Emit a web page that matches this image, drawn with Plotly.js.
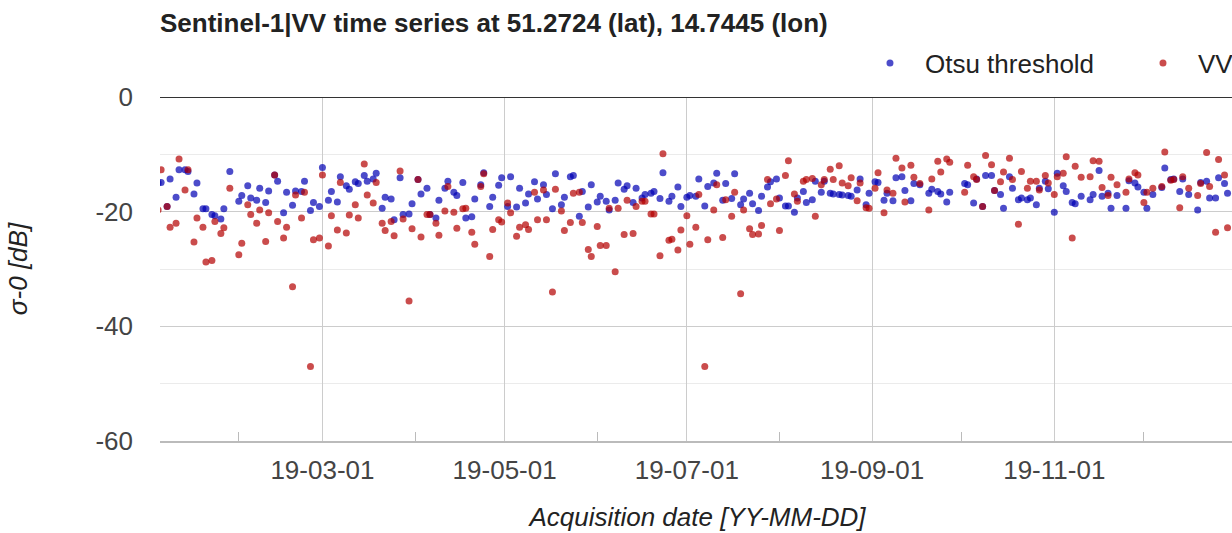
<!DOCTYPE html>
<html>
<head>
<meta charset="utf-8">
<script src="https://cdn.plot.ly/plotly-3.0.1.min.js"></script>
<style>
  html, body { margin: 0; padding: 0; background: #fff; overflow: hidden; }
  #chart { width: 1500px; height: 533px; }
</style>
</head>
<body>
<div id="chart"></div>
<script>
// Acquisition dates (2019)
const dates = [
  "2019-01-05","2019-01-06","2019-01-08","2019-01-09","2019-01-11","2019-01-12","2019-01-14","2019-01-15","2019-01-17","2019-01-18","2019-01-20","2019-01-21","2019-01-23","2019-01-24","2019-01-26","2019-01-27","2019-01-29",
  "2019-02-01","2019-02-02","2019-02-04","2019-02-05","2019-02-07","2019-02-08","2019-02-10","2019-02-11","2019-02-13","2019-02-14","2019-02-16","2019-02-17","2019-02-19","2019-02-20","2019-02-22","2019-02-23","2019-02-25","2019-02-26","2019-02-28",
  "2019-03-01","2019-03-03","2019-03-04","2019-03-06","2019-03-07","2019-03-09","2019-03-10","2019-03-12","2019-03-13","2019-03-15","2019-03-16","2019-03-18","2019-03-19","2019-03-21","2019-03-22","2019-03-24","2019-03-25","2019-03-27","2019-03-28","2019-03-30","2019-03-31",
  "2019-04-02","2019-04-03","2019-04-05","2019-04-06","2019-04-08","2019-04-09","2019-04-11","2019-04-12","2019-04-14","2019-04-15","2019-04-17","2019-04-18","2019-04-20","2019-04-21","2019-04-23","2019-04-24","2019-04-26","2019-04-27","2019-04-29","2019-04-30",
  "2019-05-02","2019-05-03","2019-05-05","2019-05-06","2019-05-08","2019-05-09","2019-05-11","2019-05-12","2019-05-14","2019-05-15","2019-05-17","2019-05-18","2019-05-20","2019-05-21","2019-05-23","2019-05-24","2019-05-26","2019-05-27","2019-05-29","2019-05-30",
  "2019-06-01","2019-06-02","2019-06-04","2019-06-05","2019-06-07","2019-06-08","2019-06-10","2019-06-11","2019-06-13","2019-06-14","2019-06-16","2019-06-17","2019-06-19","2019-06-20","2019-06-22","2019-06-23","2019-06-25","2019-06-26","2019-06-28","2019-06-29",
  "2019-07-01","2019-07-02","2019-07-04","2019-07-05","2019-07-07","2019-07-08","2019-07-10","2019-07-11","2019-07-13","2019-07-14","2019-07-16","2019-07-17","2019-07-19","2019-07-20","2019-07-22","2019-07-23","2019-07-25","2019-07-26","2019-07-28","2019-07-29","2019-07-31",
  "2019-08-01","2019-08-03","2019-08-04","2019-08-06","2019-08-07","2019-08-09","2019-08-10","2019-08-12","2019-08-13","2019-08-15","2019-08-16","2019-08-18","2019-08-19","2019-08-21","2019-08-22","2019-08-24","2019-08-25","2019-08-27","2019-08-28","2019-08-30","2019-08-31",
  "2019-09-02","2019-09-03","2019-09-05","2019-09-06","2019-09-08","2019-09-09","2019-09-11","2019-09-12","2019-09-14","2019-09-15","2019-09-17","2019-09-20","2019-09-21","2019-09-23","2019-09-24","2019-09-26","2019-09-27",
  "2019-10-02","2019-10-03","2019-10-05","2019-10-06","2019-10-08","2019-10-09","2019-10-11","2019-10-12","2019-10-14","2019-10-15","2019-10-17","2019-10-18","2019-10-20","2019-10-21","2019-10-23","2019-10-24","2019-10-26","2019-10-27","2019-10-29","2019-10-30",
  "2019-11-01","2019-11-02","2019-11-04","2019-11-05","2019-11-07","2019-11-08","2019-11-10","2019-11-13","2019-11-14","2019-11-16","2019-11-17","2019-11-19","2019-11-20","2019-11-22","2019-11-25","2019-11-26","2019-11-28","2019-11-29",
  "2019-12-01","2019-12-02","2019-12-04","2019-12-07","2019-12-08","2019-12-10","2019-12-11","2019-12-13","2019-12-14","2019-12-16","2019-12-19","2019-12-20","2019-12-22","2019-12-23","2019-12-25","2019-12-26","2019-12-28","2019-12-29"
];

// Otsu threshold [dB]
const otsuThreshold = [
  -15.0,-14.9,-19.1,-14.3,-17.5,-12.7,-12.7,-13.0,-16.9,-15.0,-19.5,-19.5,-20.5,-20.7,-21.3,-19.5,-13.0,
  -18.2,-17.2,-15.5,-17.6,-18.0,-15.9,-18.4,-16.4,-13.6,-14.7,-20.2,-16.6,-18.9,-16.4,-16.5,-14.7,-19.8,-18.4,-19.1,
  -12.3,-18.0,-16.5,-18.3,-13.9,-15.5,-16.1,-14.8,-15.1,-13.7,-14.7,-14.3,-13.3,-19.4,-17.5,-17.8,-21.4,-14.1,-20.5,-20.4,-18.6,
  -14.4,-16.9,-15.9,-20.5,-21.1,-18.0,-15.9,-14.7,-16.6,-17.2,-14.9,-21.1,-20.9,-17.8,-15.3,-13.2,-19.1,-17.5,-15.4,-14.1,
  -19.1,-13.9,-19.2,-15.9,-18.5,-16.9,-14.8,-17.8,-15.3,-17.0,-19.5,-13.4,-18.8,-17.5,-13.9,-13.7,-20.8,-16.5,-19.2,-15.3,
  -18.3,-17.3,-18.2,-19.7,-18.0,-15.0,-16.1,-15.5,-18.4,-15.9,-17.6,-17.0,-16.8,-16.5,-17.7,-13.2,-18.2,-17.3,-15.7,-19.1,
  -17.5,-17.2,-17.3,-14.3,-19.0,-15.6,-15.0,-13.3,-18.0,-15.1,-17.7,-13.4,-18.8,-17.8,-16.8,-18.6,-19.8,-17.3,-15.7,-14.8,-14.3,
  -17.6,-19.0,-19.0,-20.1,-17.6,-16.5,-18.4,-17.9,-14.7,-16.6,-14.7,-16.8,-16.9,-17.0,-17.1,-17.2,-17.3,-16.2,-14.3,-18.8,-16.8,
  -14.8,-14.9,-18.0,-16.8,-18.1,-14.1,-13.9,-16.3,-18.1,-15.1,-15.3,-16.8,-16.1,-16.5,-16.9,-18.3,-16.6,
  -15.1,-15.3,-18.5,-14.3,-19.1,-13.7,-13.7,-16.3,-17.0,-19.4,-13.9,-15.9,-17.9,-17.6,-17.9,-17.6,-18.8,-15.9,-14.7,-16.0,
  -20.1,-13.3,-15.5,-16.5,-18.4,-18.6,-17.3,-17.9,-17.0,-12.8,-17.3,-16.8,-19.4,-17.2,-19.4,-14.6,-15.0,-15.7,
  -16.6,-19.4,-17.0,-15.8,-12.4,-14.4,-14.3,-16.5,-14.3,-17.0,-19.7,-14.9,-14.7,-17.6,-17.6,-14.1,-15.1,-16.8
];

// VV backscatter sigma-0 [dB]
const vvBackscatter = [
  -19.7,-12.7,-19.1,-22.7,-22.0,-10.8,-16.2,-12.7,-25.3,-21.1,-22.7,-28.8,-28.5,-21.7,-23.8,-22.8,-15.9,
  -27.5,-25.5,-18.8,-20.5,-22.0,-19.7,-25.2,-20.2,-13.6,-21.7,-24.6,-22.7,-33.1,-17.1,-21.1,-16.6,-47.0,-24.9,-24.6,
  -13.6,-26.0,-20.7,-23.2,-14.9,-23.7,-20.6,-18.8,-21.1,-11.7,-17.1,-18.5,-14.9,-22.0,-23.3,-21.7,-24.2,-12.9,-21.3,-35.6,-23.0,
  -14.4,-24.4,-20.5,-20.5,-22.0,-24.1,-19.9,-15.6,-20.1,-22.9,-19.5,-19.4,-23.6,-25.7,-15.6,-13.4,-27.8,-23.1,-21.4,-21.8,
  -18.5,-20.2,-24.3,-22.7,-22.3,-23.1,-16.6,-21.4,-16.2,-21.4,-34.0,-16.1,-19.9,-23.3,-21.9,-16.8,-16.6,-21.9,-26.6,-27.8,
  -22.6,-25.9,-25.9,-19.4,-30.5,-19.4,-24.0,-18.0,-23.8,-19.1,-18.2,-18.2,-20.4,-20.4,-27.7,-9.9,-25.0,-24.8,-26.7,-23.2,
  -20.7,-25.7,-22.7,-17.0,-47.0,-24.9,-19.7,-15.3,-24.5,-17.9,-20.8,-16.6,-34.3,-19.7,-23.0,-24.0,-23.9,-22.4,-14.4,-18.6,-17.8,
  -23.3,-13.7,-11.1,-16.9,-18.2,-14.7,-14.4,-14.2,-20.8,-15.3,-14.4,-12.6,-14.4,-12.0,-15.0,-15.5,-14.1,-18.1,-15.0,-19.3,-19.4,
  -15.9,-13.2,-20.2,-16.2,-16.8,-10.7,-12.4,-18.3,-11.9,-14.0,-15.1,-19.7,-14.3,-11.2,-13.1,-10.8,-11.4,
  -16.6,-11.9,-13.9,-14.4,-19.1,-10.2,-11.8,-16.3,-14.8,-13.1,-10.7,-14.4,-22.2,-13.0,-15.9,-14.7,-14.7,-16.2,-13.7,-15.0,
  -17.0,-13.9,-13.3,-10.4,-24.6,-12.1,-14.0,-13.9,-11.1,-11.2,-15.8,-17.2,-14.0,-15.3,-16.6,-14.3,-13.2,-13.6,
  -18.4,-16.6,-15.9,-15.6,-9.6,-14.5,-14.4,-19.3,-13.9,-15.9,-17.2,-15.1,-9.7,-15.6,-23.6,-10.9,-13.6,-22.8
];

const seriesNames = ["Otsu threshold", "VV"];
const yTickVals = [0, -20, -40, -60];
const yTickText = ["0", "-20", "-40", "-60"];

const FONT = "Liberation Sans, Arial, sans-serif";

const traces = [
  {
    type: "scatter", mode: "markers", name: seriesNames[0],
    x: dates, y: otsuThreshold,
    marker: { color: "#0000b4", size: 7, opacity: 0.7, line: { width: 0 } },
    hoverinfo: "skip"
  },
  {
    type: "scatter", mode: "markers", name: seriesNames[1],
    x: dates, y: vvBackscatter,
    marker: { color: "#b40000", size: 7, opacity: 0.7, line: { width: 0 } },
    hoverinfo: "skip"
  }
];

const layout = {
  width: 1500, height: 533,
  margin: { l: 160, r: 265, t: 97, b: 92, pad: 0 },
  paper_bgcolor: "#fff", plot_bgcolor: "#fff",
  font: { family: FONT, size: 26, color: "#444" },
  title: {
    text: "Sentinel-1|VV time series at 51.2724 (lat), 14.7445 (lon)",
    font: { family: FONT, size: 26, color: "#222", weight: 700 },
    xref: "paper", x: 0, xanchor: "left",
    yref: "container", y: 1 - 22.6 / 533, yanchor: "middle"
  },
  showlegend: true,
  legend: {
    orientation: "h", x: 0.6465, xanchor: "left",
    y: 1.0988, yanchor: "middle",
    font: { family: FONT, size: 26, color: "#222" },
    bgcolor: "rgba(0,0,0,0)", itemwidth: 60, entrywidth: 198
  },
  xaxis: {
    type: "date",
    range: ["2019-01-05 15:00", "2019-12-31 12:00"],
    tick0: "2019-01-01", dtick: "M2", tickformat: "%y-%m-%d",
    showgrid: true, gridcolor: "#cccccc", gridwidth: 1,
    ticks: "", ticklabelstandoff: 5,
    tickfont: { family: FONT, size: 26, color: "#444" },
    showline: true, linecolor: "#bbbbbb", linewidth: 2,
    zeroline: false,
    minor: { tick0: "2019-01-01", dtick: "M1", ticks: "inside", ticklen: 9, tickcolor: "#bbbbbb", tickwidth: 1, showgrid: false },
    title: { text: "Acquisition date [YY-MM-DD]", font: { family: FONT, size: 26, color: "#222", style: "italic" }, standoff: 24 }
  },
  yaxis: {
    range: [-60, 0],
    tickmode: "array", tickvals: yTickVals, ticktext: yTickText,
    showgrid: true, gridcolor: "#cccccc", gridwidth: 1,
    ticks: "", ticklabelstandoff: 26,
    tickfont: { family: FONT, size: 26, color: "#444" },
    zeroline: false, showline: false,
    minor: { tickmode: "linear", dtick: 10, tick0: 0, showgrid: true, gridcolor: "#ebebeb", gridwidth: 1, ticks: "" },
    title: { text: "σ-0 [dB]", font: { family: FONT, size: 26, color: "#222", style: "italic" }, standoff: 60 }
  },
  shapes: [
    { type: "line", xref: "paper", x0: 0, x1: 1, yref: "y", y0: 0, y1: 0, line: { color: "#333333", width: 2 }, layer: "above" }
  ]
};

Plotly.newPlot("chart", traces, layout, { staticPlot: true, displayModeBar: false });
</script>
</body>
</html>
